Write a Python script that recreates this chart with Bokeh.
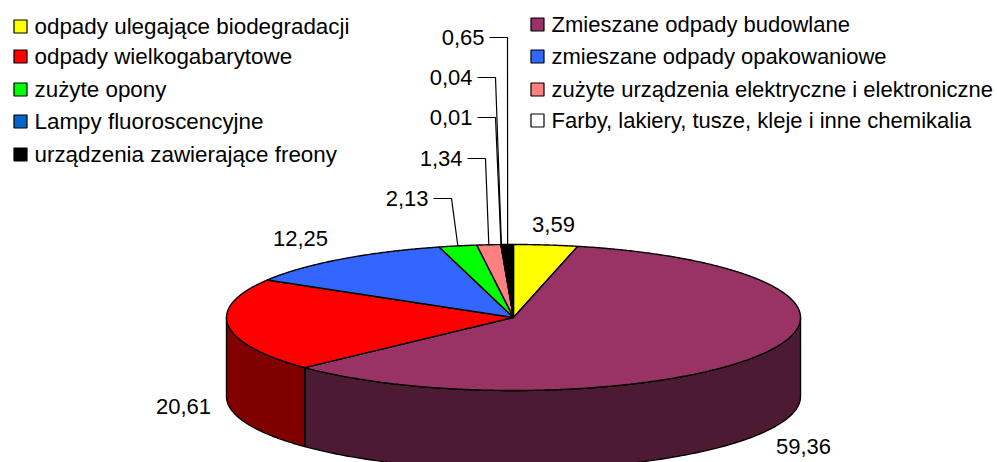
import numpy as np
from bokeh.plotting import figure
from bokeh.embed import file_html
from bokeh.resources import INLINE
from bokeh.core.properties import value

categories = ["odpady ulegające biodegradacji", "Zmieszane odpady budowlane", "odpady wielkogabarytowe",
              "zmieszane odpady opakowaniowe", "zużyte opony", "zużyte urządzenia elektryczne i elektroniczne",
              "Lampy fluoroscencyjne", "Farby, lakiery, tusze, kleje i inne chemikalia", "urządzenia zawierające freony"]
values = [3.59, 59.36, 20.61, 12.25, 2.13, 1.34, 0.01, 0.04, 0.65]
labels = ["3,59", "59,36", "20,61", "12,25", "2,13", "1,34", "0,01", "0,04", "0,65"]
colors = ["#FFFF00", "#993366", "#FF0000", "#3366FF", "#00FF00", "#FF8080", "#0066CC", "#FFFFFF", "#000000"]
side_colors = ["#808000", "#4D1A33", "#800000", "#1A3380", "#008000", "#804040", "#003366", "#808080", "#000000"]

# layout (page pixels)
W, H = 997, 462
FONT = "Liberation Sans"
FS = "22px"
FS_COL1 = "22.4px"
CX, CY, RX, RY, DEPTH = 513, 317, 287, 73, 79
label_pos = {0: (553, 224), 1: (803, 446), 2: (183, 406), 3: (300, 238)}
leader_pos = {4: (428, 198), 5: (462, 158), 6: (472, 117), 7: (472, 77), 8: (484, 37)}
legend_rows = [26, 56, 89, 121, 154]
legend_rows2 = [24, 56, 89, 120]
legend_col1 = [0, 2, 4, 6, 8]
legend_col2 = [1, 3, 5, 7]

p = figure(width=W, height=H, x_range=(0, W), y_range=(H, 0), output_backend="svg",
           toolbar_location=None, min_border=0, outline_line_color=None)
p.axis.visible = False
p.grid.visible = False
p.background_fill_color = "#FFFFFF"

def pt(deg, dy=0.0):
    a = np.radians(deg)
    return CX + RX * np.sin(a), CY - RY * np.cos(a) + dy

bounds = np.concatenate([[0], np.cumsum(values)]) / sum(values) * 360

# side walls
for i in range(len(values)):
    lo, hi = max(bounds[i], 90), min(bounds[i + 1], 270)
    if hi <= lo:
        continue
    t = np.linspace(lo, hi, 160)
    xt, yt = pt(t)
    xb, yb = pt(t[::-1], DEPTH)
    p.patch(np.r_[xt, xb], np.r_[yt, yb], fill_color=side_colors[i], line_color="#000000", line_width=1.4)

# top slices
for i in range(len(values)):
    t = np.linspace(bounds[i], bounds[i + 1], max(3, int(bounds[i + 1] - bounds[i]) * 3))
    xt, yt = pt(t)
    p.patch(np.r_[CX, xt], np.r_[CY, yt], fill_color=colors[i], line_color="#000000", line_width=1.4)

# labels
tf = value(FONT)
for i, (x, y) in label_pos.items():
    p.text([x], [y], text=[labels[i]], text_font=tf, text_font_size=FS, text_color="#000000",
           text_align="center", text_baseline="middle")
for i, (x, y) in leader_pos.items():
    p.text([x], [y], text=[labels[i]], text_font=tf, text_font_size=FS, text_color="#000000",
           text_align="right", text_baseline="middle")
    ex, ey = pt((bounds[i] + bounds[i + 1]) / 2)
    p.line([x + 5, x + 23, ex], [y, y, ey], line_color="#000000", line_width=1.2)

# legend
for col_x, rows, idx, fs in ((13, legend_rows, legend_col1, FS_COL1), (530, legend_rows2, legend_col2, FS)):
    for y, i in zip(rows, idx):
        p.rect([col_x + 7], [y], width=13, height=13, fill_color=colors[i], line_color="#000000", line_width=1.2)
        p.text([col_x + 21], [y], text=[categories[i]], text_font=tf, text_font_size=fs, text_color="#000000",
               text_align="left", text_baseline="middle")

open("out.html", "w").write(file_html(p, INLINE))
